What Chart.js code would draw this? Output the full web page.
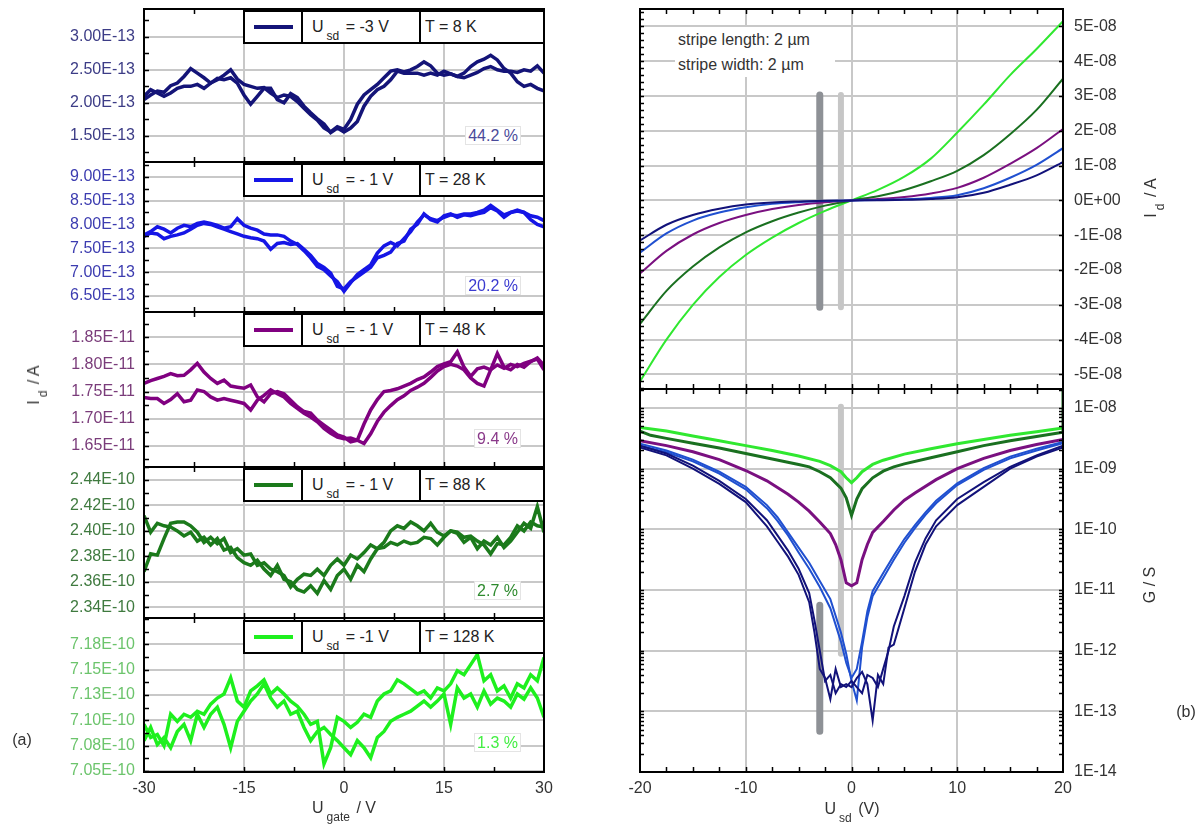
<!DOCTYPE html>
<html>
<head>
<meta charset="utf-8">
<script src="https://cdn.jsdelivr.net/npm/chart.js@4.4.0/dist/chart.umd.min.js"></script>
<style>
  body { margin: 0; background: #fff; font-family: 'Liberation Sans', Arial, sans-serif; }
  #fig { position: relative; width: 1201px; height: 827px; overflow: hidden; background: #fff; }
  canvas { position: absolute; }
  .lg { position: absolute; left: 243px; width: 302px; height: 34px; box-sizing: border-box;
        border: 2px solid #000; background: #fff; display: flex; font-size: 16px; color: #222; }
  .lg .sw { width: 56px; border-right: 2px solid #000; position: relative; }
  .lg .sw i { position: absolute; left: 9px; right: 8px; top: 13px; height: 4px; }
  .lg .u { width: 118px; border-right: 2px solid #000; padding-left: 9px; line-height: 29px; box-sizing: border-box; }
  .lg .t { flex: 1; padding-left: 4px; line-height: 29px; }
  .sb { font-size: 12px; position: relative; top: 8px; margin: 0 2px 0 3px; }
  .pc { position: absolute; right: 680px; font-size: 16px; line-height: 17px; padding: 0 2px;
        background: #fff; border: 1px solid #e4e4e4; }
  .txt { position: absolute; white-space: nowrap; font-size: 16px; color: #333; transform: translate(-50%, -50%); }
  .rot { position: absolute; white-space: nowrap; font-size: 16px; color: #333; transform: translate(-50%, -50%) rotate(-90deg); }
  .note { position: absolute; left: 675px; top: 27px; width: 160px; height: 50px; background: #fff;
          font-size: 16px; color: #333; line-height: 25px; padding-left: 3px; box-sizing: border-box; }
</style>
</head>
<body>
<div id="fig">
  <canvas id="p1"></canvas>
  <canvas id="p2"></canvas>
  <canvas id="p3"></canvas>
  <canvas id="p4"></canvas>
  <canvas id="p5"></canvas>
  <canvas id="rTop"></canvas>
  <canvas id="rBot"></canvas>

  <div class="lg" style="top:10px"><div class="sw"><i style="background:#141478"></i></div><div class="u">U<span class="sb">sd</span> = -3 V</div><div class="t">T = 8 K</div></div>
  <div class="lg" style="top:163px"><div class="sw"><i style="background:#1515e6"></i></div><div class="u">U<span class="sb">sd</span> = - 1 V</div><div class="t">T = 28 K</div></div>
  <div class="lg" style="top:313px"><div class="sw"><i style="background:#800080"></i></div><div class="u">U<span class="sb">sd</span> = - 1 V</div><div class="t">T = 48 K</div></div>
  <div class="lg" style="top:468px"><div class="sw"><i style="background:#1b7a1b"></i></div><div class="u">U<span class="sb">sd</span> = - 1 V</div><div class="t">T = 88 K</div></div>
  <div class="lg" style="top:620px"><div class="sw"><i style="background:#1ef01e"></i></div><div class="u">U<span class="sb">sd</span> = -1 V</div><div class="t">T = 128 K</div></div>

  <div class="pc" style="top:126px;color:#4a4a9a">44.2 %</div>
  <div class="pc" style="top:276px;color:#3a3ad0">20.2 %</div>
  <div class="pc" style="top:429px;color:#8a3a8a">9.4 %</div>
  <div class="pc" style="top:581px;color:#2e8a2e">2.7 %</div>
  <div class="pc" style="top:733px;color:#44ee44">1.3 %</div>

  <div class="rot" style="left:34px;top:385px">I<span class="sb">d</span> / A</div>
  <div class="txt" style="left:344px;top:808px">U<span class="sb">gate</span> / V</div>
  <div class="txt" style="left:22px;top:740px">(a)</div>

  <div class="note">stripe length: 2 µm<br>stripe width: 2 µm</div>
  <div class="rot" style="left:1151px;top:198px">I<span class="sb">d</span> / A</div>
  <div class="rot" style="left:1150px;top:585px">G / S</div>
  <div class="txt" style="left:852px;top:809px">U<span class="sb">sd</span> (V)</div>
  <div class="txt" style="left:1186px;top:712px">(b)</div>
</div>

<script>
// ---------- data ----------

// left: gate sweep, x in V
const gateV = [-30,-29,-28,-27,-26,-25,-24,-23,-22,-21,-20,-19,-18,-17,-16,-15,-14,-13,-12,-11,-10,
  -9,-8,-7,-6,-5,-4,-3,-2,-1,0,1,2,3,4,5,6,7,8,9,10,11,12,13,14,15,16,17,18,19,20,
  21,22,23,24,25,26,27,28,29,30];
const gateTicks = [-30, -15, 0, 15, 30];

// panel 1: T = 8 K, values in 1E-13 A
const p1A = [2.05,2.12,2.18,2.16,2.26,2.30,2.40,2.52,2.45,2.38,2.30,2.35,2.42,2.50,2.36,2.28,2.25,2.22,2.23,2.15,2.08,
  2.12,2.10,2.02,1.92,1.82,1.74,1.62,1.56,1.64,1.60,1.75,1.98,2.12,2.20,2.28,2.38,2.48,2.50,2.47,2.50,
  2.55,2.62,2.56,2.45,2.42,2.44,2.40,2.45,2.55,2.62,2.66,2.72,2.65,2.52,2.45,2.32,2.25,2.28,2.22,2.18];
const p1B = [2.10,2.20,2.15,2.10,2.15,2.22,2.25,2.25,2.28,2.22,2.30,2.37,2.35,2.38,2.30,2.12,1.98,2.10,2.22,2.22,2.05,
  2.00,2.14,2.08,1.95,1.85,1.76,1.68,1.55,1.62,1.56,1.62,1.72,1.95,2.10,2.20,2.25,2.35,2.48,2.45,2.45,
  2.45,2.42,2.45,2.42,2.48,2.44,2.40,2.38,2.42,2.46,2.52,2.55,2.50,2.48,2.48,2.46,2.50,2.48,2.56,2.45];
const p1Ticks = [1.5, 2.0, 2.5, 3.0];
const p1Labels = ['1.50E-13', '2.00E-13', '2.50E-13', '3.00E-13'];

// panel 2: T = 28 K, values in 1E-13 A
const p2A = [7.78,7.85,7.95,7.90,7.82,7.92,7.98,7.95,8.02,8.05,8.02,7.98,7.92,7.95,8.12,7.98,7.92,7.88,7.80,7.78,7.78,
  7.75,7.65,7.58,7.45,7.30,7.12,7.05,6.92,6.80,6.60,6.78,6.95,7.05,7.15,7.40,7.55,7.62,7.55,7.70,7.85,
  8.05,8.20,8.12,8.08,8.15,8.20,8.18,8.22,8.22,8.25,8.30,8.40,8.30,8.20,8.25,8.30,8.25,8.18,8.15,8.08];
const p2B = [7.75,7.82,7.80,7.70,7.75,7.78,7.82,7.90,7.98,8.02,8.00,7.95,7.90,7.85,7.80,7.75,7.72,7.70,7.65,7.48,7.60,
  7.62,7.58,7.60,7.48,7.35,7.18,7.10,6.98,6.70,6.65,6.80,6.90,7.00,7.10,7.30,7.35,7.42,7.60,7.65,7.90,
  8.00,8.22,8.10,8.05,8.18,8.22,8.15,8.20,8.18,8.22,8.25,8.35,8.28,8.15,8.25,8.28,8.25,8.10,8.00,7.95];
const p2Ticks = [6.5, 7.0, 7.5, 8.0, 8.5, 9.0];
const p2Labels = ['6.50E-13', '7.00E-13', '7.50E-13', '8.00E-13', '8.50E-13', '9.00E-13'];

// panel 3: T = 48 K, values in 1E-11 A
const p3A = [1.765,1.770,1.774,1.778,1.783,1.779,1.780,1.790,1.802,1.786,1.774,1.765,1.771,1.760,1.758,1.756,1.762,1.740,1.731,1.746,1.750,
  1.746,1.734,1.722,1.713,1.710,1.697,1.688,1.679,1.670,1.666,1.657,1.660,1.690,1.716,1.735,1.750,1.752,1.755,1.760,1.765,
  1.772,1.777,1.786,1.796,1.801,1.805,1.823,1.795,1.778,1.792,1.795,1.790,1.799,1.793,1.800,1.796,1.802,1.806,1.810,1.790];
const p3B = [1.739,1.737,1.737,1.728,1.735,1.746,1.731,1.734,1.753,1.750,1.740,1.734,1.737,1.734,1.731,1.728,1.716,1.734,1.743,1.753,1.746,
  1.740,1.728,1.719,1.710,1.703,1.694,1.682,1.673,1.666,1.663,1.664,1.660,1.654,1.672,1.695,1.712,1.724,1.735,1.742,1.752,
  1.758,1.765,1.776,1.788,1.796,1.800,1.797,1.790,1.775,1.765,1.760,1.790,1.820,1.795,1.790,1.800,1.795,1.805,1.812,1.798];
const p3Ticks = [1.65, 1.70, 1.75, 1.80, 1.85];
const p3Labels = ['1.65E-11', '1.70E-11', '1.75E-11', '1.80E-11', '1.85E-11'];

// panel 4: T = 88 K, values in 1E-10 A
const p4A = [2.412,2.399,2.406,2.404,2.403,2.400,2.396,2.399,2.392,2.395,2.389,2.394,2.385,2.387,2.379,2.375,2.373,2.377,2.370,2.365,2.373,
  2.362,2.360,2.354,2.352,2.357,2.351,2.361,2.354,2.365,2.370,2.362,2.373,2.368,2.378,2.386,2.391,2.400,2.404,2.402,2.407,
  2.404,2.400,2.406,2.399,2.396,2.400,2.398,2.391,2.395,2.386,2.392,2.389,2.395,2.387,2.392,2.399,2.406,2.402,2.419,2.399];
const p4B = [2.368,2.382,2.381,2.394,2.406,2.407,2.407,2.404,2.399,2.391,2.395,2.390,2.394,2.383,2.386,2.381,2.382,2.373,2.375,2.370,2.368,
  2.365,2.356,2.362,2.366,2.365,2.370,2.365,2.373,2.378,2.373,2.381,2.378,2.383,2.389,2.386,2.387,2.391,2.389,2.392,2.390,
  2.391,2.395,2.394,2.389,2.395,2.400,2.399,2.395,2.396,2.392,2.389,2.382,2.390,2.389,2.395,2.404,2.400,2.407,2.404,2.403];
const p4Ticks = [2.34, 2.36, 2.38, 2.40, 2.42, 2.44];
const p4Labels = ['2.34E-10', '2.36E-10', '2.38E-10', '2.40E-10', '2.42E-10', '2.44E-10'];

// panel 5: T = 128 K, values in 1E-10 A
const p5A = [7.096,7.083,7.086,7.075,7.106,7.099,7.106,7.103,7.109,7.106,7.116,7.122,7.126,7.142,7.119,7.113,7.129,7.134,7.140,7.126,7.132,
  7.126,7.119,7.114,7.106,7.096,7.099,7.057,7.073,7.103,7.099,7.093,7.098,7.106,7.103,7.119,7.126,7.129,7.140,7.136,7.131,
  7.126,7.129,7.122,7.132,7.129,7.136,7.149,7.145,7.155,7.165,7.139,7.145,7.129,7.134,7.122,7.136,7.132,7.145,7.139,7.162];
const p5B = [7.080,7.093,7.076,7.083,7.073,7.089,7.096,7.080,7.106,7.093,7.106,7.113,7.096,7.073,7.099,7.109,7.119,7.126,7.136,7.122,7.113,
  7.119,7.106,7.109,7.093,7.080,7.089,7.093,7.086,7.080,7.073,7.066,7.080,7.073,7.063,7.083,7.089,7.099,7.103,7.106,7.109,
  7.114,7.119,7.113,7.119,7.126,7.096,7.132,7.122,7.126,7.113,7.129,7.116,7.122,7.119,7.113,7.126,7.121,7.132,7.122,7.103];
const p5Ticks = [7.05, 7.075, 7.10, 7.125, 7.15, 7.175];
const p5Labels = ['7.05E-10', '7.08E-10', '7.10E-10', '7.13E-10', '7.15E-10', '7.18E-10'];

// right top: I-V curves, x in V, current in 1E-8 A
const sdV = [-20,-17.5,-15,-12.5,-10,-7.5,-5,-2.5,0,2.5,5,7.5,10,12.5,15,17.5,20];
const iNavy   = [-1.15,-0.70,-0.42,-0.24,-0.12,-0.06,-0.03,-0.01,0,0.005,0.015,0.04,0.09,0.22,0.45,0.72,1.10];
const iBlue   = [-1.50,-0.95,-0.58,-0.35,-0.20,-0.10,-0.05,-0.02,0,0.01,0.03,0.07,0.15,0.35,0.65,1.02,1.50];
const iPurple = [-2.10,-1.45,-0.98,-0.65,-0.42,-0.25,-0.13,-0.05,0,0.04,0.10,0.20,0.36,0.65,1.05,1.50,2.05];
const iDkGreen= [-3.55,-2.60,-1.90,-1.35,-0.92,-0.60,-0.35,-0.15,0,0.12,0.30,0.55,0.85,1.30,1.90,2.60,3.50];
const iGreen  = [-5.20,-4.00,-3.00,-2.20,-1.57,-1.07,-0.65,-0.30,0,0.30,0.68,1.20,1.95,2.75,3.60,4.35,5.15];
const iTicks = [-5,-4,-3,-2,-1,0,1,2,3,4,5];
const iLabels = ['-5E-08','-4E-08','-3E-08','-2E-08','-1E-08','0E+00','1E-08','2E-08','3E-08','4E-08','5E-08'];
const sdTicks = [-20, -10, 0, 10, 20];

// gray marker bars (V, and I range in 1E-8 A)
const darkBarV = -3, darkBarI = [3.03, -3.07];
const lightBarV = -1, lightBarI = [3.03, -3.07];

// right bottom: conductance, stored as log10(G / S)
const gNavyV = [-20,-17.5,-15,-12.5,-10,-8,-7,-6,-5,-4,-3.5,-3,-2.5,-2,-1.5,-1,-0.5,0,0.5,1,1.5,2,2.5,3,3.5,4,5,6,7,8,10,12.5,15,17.5,20];
const gNavyA = [-8.65,-8.78,-9.0,-9.25,-9.55,-9.95,-10.2,-10.45,-10.75,-11.2,-11.7,-12.3,-12.45,-12.8,-12.3,-12.6,-12.55,-12.6,
  -12.45,-12.35,-12.55,-13.15,-12.4,-12.55,-11.95,-11.9,-11.3,-10.7,-10.25,-9.95,-9.6,-9.3,-9.0,-8.8,-8.65];
const gNavyB = [-8.62,-8.75,-8.95,-9.2,-9.5,-9.85,-10.1,-10.35,-10.65,-11.05,-11.5,-12.0,-12.5,-12.4,-12.7,-12.55,-12.6,-12.5,
  -12.6,-12.7,-12.4,-12.45,-12.6,-12.3,-12.0,-11.6,-11.1,-10.55,-10.15,-9.85,-9.5,-9.22,-8.97,-8.78,-8.62];
const gBlueV = [-20,-17.5,-15,-12.5,-10,-8,-7,-6,-5,-4,-3,-2,-1,-0.5,0,0.5,1,1.5,2,3,4,5,6,7,8,10,12.5,15,17.5,20];
const gBlueA = [-8.59,-8.7,-8.85,-9.05,-9.3,-9.6,-9.8,-10.05,-10.3,-10.55,-10.85,-11.15,-11.7,-12.05,-12.5,-12.82,-11.95,-11.45,
  -11.1,-10.8,-10.5,-10.22,-9.98,-9.76,-9.57,-9.27,-9.02,-8.83,-8.7,-8.58];
const gBlueB = [-8.62,-8.73,-8.88,-9.08,-9.34,-9.65,-9.86,-10.1,-10.38,-10.65,-10.95,-11.3,-11.85,-12.2,-12.45,-12.3,-11.85,-11.35,
  -11.02,-10.72,-10.43,-10.16,-9.93,-9.72,-9.53,-9.24,-8.99,-8.8,-8.67,-8.56];
const gPurpleV = [-20,-17.5,-15,-12.5,-10,-8,-6,-5,-4,-3,-2,-1.5,-1,-0.5,0,0.5,1,1.5,2,3,4,5,6,8,10,12.5,15,17.5,20];
const gPurple = [-8.54,-8.62,-8.72,-8.85,-9.03,-9.2,-9.42,-9.55,-9.7,-9.88,-10.07,-10.25,-10.5,-10.88,-10.93,-10.88,-10.5,-10.25,
  -10.05,-9.87,-9.68,-9.52,-9.4,-9.18,-9.0,-8.83,-8.7,-8.6,-8.52];
const gDkGreenV = [-20,-19,-17.5,-15,-12.5,-10,-7.5,-5,-4,-3,-2,-1,-0.5,0,0.5,1,2,3,4,5,7.5,10,12.5,15,17.5,20,20];
const gDkGreen = [-8.38,-8.45,-8.5,-8.58,-8.66,-8.75,-8.84,-8.93,-8.97,-9.05,-9.15,-9.32,-9.48,-9.77,-9.5,-9.33,-9.15,-9.04,
  -8.97,-8.92,-8.82,-8.72,-8.62,-8.54,-8.47,-8.4,-7.68];
const gGreenV = [-20,-17.5,-15,-12.5,-10,-7.5,-5,-3,-2,-1,-0.5,0,0.5,1,2,3,5,7.5,10,12.5,15,17.5,20];
const gGreen = [-8.32,-8.38,-8.46,-8.54,-8.62,-8.7,-8.79,-8.88,-8.95,-9.05,-9.15,-9.23,-9.15,-9.05,-8.93,-8.86,-8.76,-8.67,
  -8.59,-8.52,-8.45,-8.39,-8.33];
const gDarkBar = [-11.25, -13.33];
const gLightBar = [-7.98, -12.05];
const gTicks = [1e-14, 1e-13, 1e-12, 1e-11, 1e-10, 1e-9, 1e-8];
const gLabels = ['1E-14', '1E-13', '1E-12', '1E-11', '1E-10', '1E-09', '1E-08'];

// ---------- helpers ----------
const FONT = "'Liberation Sans', Arial, sans-serif";
const GRID = '#c8c8c8';

function pts(xs, ys, f) {
  return xs.map((x, i) => ({ x: x, y: f ? f(ys[i]) : ys[i] }));
}
const pow10 = v => Math.pow(10, v);

function steps(a, b, s) {
  const out = [];
  for (let v = a; v <= b + s / 1000; v += s) out.push(+v.toFixed(6));
  return out;
}

// frame around the plot area plus inward tick marks
const frameTicks = {
  id: 'frameTicks',
  afterDatasetsDraw(chart, args, o) {
    const { ctx, chartArea: a, scales } = chart;
    const xs = scales.x, ys = scales.y;
    ctx.save();
    ctx.strokeStyle = '#000';
    ctx.lineWidth = 1.5;
    ctx.beginPath();
    (o.xTicks || []).forEach(v => {
      const p = Math.round(xs.getPixelForValue(v)) + 0.5;
      ctx.moveTo(p, a.top); ctx.lineTo(p, a.top + o.xLen);
      ctx.moveTo(p, a.bottom); ctx.lineTo(p, a.bottom - o.xLen);
    });
    (o.yLeft || []).forEach(v => {
      const p = Math.round(ys.getPixelForValue(v)) + 0.5;
      if (p < a.top || p > a.bottom) return;
      ctx.moveTo(a.left, p); ctx.lineTo(a.left + o.yLen, p);
    });
    (o.yRight || []).forEach(v => {
      const p = Math.round(ys.getPixelForValue(v)) + 0.5;
      if (p < a.top || p > a.bottom) return;
      ctx.moveTo(a.right, p); ctx.lineTo(a.right - o.yLen, p);
    });
    ctx.stroke();
    ctx.lineWidth = 2;
    ctx.strokeRect(a.left, a.top, a.right - a.left, a.bottom - a.top);
    ctx.restore();
  }
};

function placeCanvas(id, area, m) {
  const cv = document.getElementById(id);
  const w = area.r - area.l + m.l + m.r;
  const h = area.b - area.t + m.t + m.b;
  cv.width = w; cv.height = h;
  cv.style.width = w + 'px'; cv.style.height = h + 'px';
  cv.style.left = (area.l - m.l) + 'px';
  cv.style.top = (area.t - m.t) + 'px';
  return cv;
}

function line(data, color, width, extra) {
  return Object.assign({ data: data, showLine: true, borderColor: color, backgroundColor: color,
    borderWidth: width, pointRadius: 0, tension: 0, fill: false }, extra || {});
}

// ---------- left panels ----------
const leftPanels = [
  { id: 'p1', top: 9,   bottom: 162, min: 1.106, max: 3.42,   ticks: p1Ticks, labels: p1Labels, minor: 0.25,
    a: p1A, b: p1B, color: '#141478', tickColor: '#3c3c86' },
  { id: 'p2', top: 162, bottom: 312, min: 6.165, max: 9.307,  ticks: p2Ticks, labels: p2Labels, minor: 0.25,
    a: p2A, b: p2B, color: '#1515e6', tickColor: '#3c3cb0' },
  { id: 'p3', top: 312, bottom: 467, min: 1.6107, max: 1.8967, ticks: p3Ticks, labels: p3Labels, minor: 0.025,
    a: p3A, b: p3B, color: '#800080', tickColor: '#7a3c7a' },
  { id: 'p4', top: 467, bottom: 618, min: 2.3316, max: 2.4502, ticks: p4Ticks, labels: p4Labels, minor: 0.01,
    a: p4A, b: p4B, color: '#1b7a1b', tickColor: '#3f7a3f' },
  { id: 'p5', top: 618, bottom: 772, min: 7.049, max: 7.201,  ticks: p5Ticks, labels: p5Labels, minor: 0.0125,
    a: p5A, b: p5B, color: '#1ef01e', tickColor: '#6cc46c' }
];

leftPanels.forEach((p, idx) => {
  const last = idx === leftPanels.length - 1;
  const area = { l: 144, r: 544, t: p.top, b: p.bottom };
  const m = { l: 144, r: 16, t: 26, b: last ? 55 : 26 };
  const cv = placeCanvas(p.id, area, m);
  new Chart(cv, {
    type: 'scatter',
    data: { datasets: [line(pts(gateV, p.a), p.color, 3.5), line(pts(gateV, p.b), p.color, 3.5)] },
    options: {
      responsive: false, animation: false, devicePixelRatio: 1, events: [],
      layout: { padding: { left: 0, right: m.r, top: m.t, bottom: 0 } },
      plugins: {
        legend: { display: false }, tooltip: { enabled: false },
        frameTicks: { xTicks: steps(-22.5, 22.5, 7.5), xLen: 5,
                      yLeft: steps(p.ticks[0] - p.minor * 2, p.max, p.minor), yLen: 5 }
      },
      scales: {
        x: {
          min: -30, max: 30,
          afterBuildTicks: s => { s.ticks = gateTicks.map(v => ({ value: v })); },
          afterFit: s => { s.height = m.b; },
          grid: { color: GRID, lineWidth: 2, drawTicks: false },
          border: { display: false },
          ticks: { display: last, color: '#333', font: { family: FONT, size: 16 }, padding: 7,
                   maxRotation: 0, autoSkip: false }
        },
        y: {
          min: p.min, max: p.max,
          afterBuildTicks: s => { s.ticks = p.ticks.map(v => ({ value: v })); },
          afterFit: s => { s.width = m.l; },
          grid: { color: GRID, lineWidth: 2, drawTicks: false },
          border: { display: false },
          ticks: { color: p.tickColor, font: { family: FONT, size: 16 }, padding: 9, autoSkip: false,
                   callback: (v, i) => p.labels[i] }
        }
      }
    },
    plugins: [frameTicks]
  });
});

// ---------- right top: I-V ----------
const colNavy = '#12127a', colBlue = '#2050d0', colPurple = '#7a1080', colDkGreen = '#1a7020', colGreen = '#30e830';
const colDarkBar = '#8e9196', colLightBar = '#c6c6c6';

(function () {
  const area = { l: 640, r: 1063, t: 9, b: 389 };
  const m = { l: 30, r: 138, t: 26, b: 26 };
  const cv = placeCanvas('rTop', area, m);
  new Chart(cv, {
    type: 'scatter',
    data: {
      datasets: [
        line(pts(sdV, iNavy), colNavy, 2, { cubicInterpolationMode: 'monotone' }),
        line(pts(sdV, iBlue), colBlue, 2, { cubicInterpolationMode: 'monotone' }),
        line(pts(sdV, iPurple), colPurple, 2, { cubicInterpolationMode: 'monotone' }),
        line(pts(sdV, iDkGreen), colDkGreen, 2, { cubicInterpolationMode: 'monotone' }),
        line(pts(sdV, iGreen), colGreen, 2, { cubicInterpolationMode: 'monotone' }),
        line(pts([darkBarV, darkBarV], darkBarI), colDarkBar, 7, { borderCapStyle: 'round', order: 10 }),
        line(pts([lightBarV, lightBarV], lightBarI), colLightBar, 6, { borderCapStyle: 'round', order: 10 })
      ]
    },
    options: {
      responsive: false, animation: false, devicePixelRatio: 1, events: [],
      layout: { padding: { left: m.l, right: 0, top: m.t, bottom: 0 } },
      plugins: {
        legend: { display: false }, tooltip: { enabled: false },
        frameTicks: { xTicks: steps(-17.5, 17.5, 2.5), xLen: 5,
                      yLeft: steps(-5.4, 5.4, 0.2), yRight: iTicks, yLen: 4 }
      },
      scales: {
        x: {
          min: -20, max: 20,
          afterBuildTicks: s => { s.ticks = sdTicks.map(v => ({ value: v })); },
          afterFit: s => { s.height = m.b; },
          grid: { color: GRID, lineWidth: 2, drawTicks: false },
          border: { display: false },
          ticks: { display: false }
        },
        y: {
          position: 'right', min: -5.42, max: 5.50,
          afterBuildTicks: s => { s.ticks = iTicks.map(v => ({ value: v })); },
          afterFit: s => { s.width = m.r; },
          grid: { color: GRID, lineWidth: 2, drawTicks: false },
          border: { display: false },
          ticks: { color: '#333', font: { family: FONT, size: 16 }, padding: 11, autoSkip: false,
                   callback: (v, i) => iLabels[i] }
        }
      }
    },
    plugins: [frameTicks]
  });
})();

// ---------- right bottom: conductance (log) ----------
(function () {
  const area = { l: 640, r: 1063, t: 389, b: 772 };
  const m = { l: 30, r: 138, t: 26, b: 55 };
  const cv = placeCanvas('rBot', area, m);
  const logMinor = [];
  for (let e = -14; e <= -8; e++) for (let k = 1; k <= 9; k++) logMinor.push(k * Math.pow(10, e));
  new Chart(cv, {
    type: 'scatter',
    data: {
      datasets: [
        line(pts(gNavyV, gNavyA, pow10), colNavy, 2),
        line(pts(gNavyV, gNavyB, pow10), colNavy, 2),
        line(pts(gBlueV, gBlueA, pow10), colBlue, 2),
        line(pts(gBlueV, gBlueB, pow10), colBlue, 2),
        line(pts(gPurpleV, gPurple, pow10), colPurple, 3),
        line(pts(gDkGreenV, gDkGreen, pow10), colDkGreen, 3),
        line(pts(gGreenV, gGreen, pow10), colGreen, 3),
        line(pts([darkBarV, darkBarV], gDarkBar, pow10), colDarkBar, 7, { borderCapStyle: 'round', order: 10 }),
        line(pts([lightBarV, lightBarV], gLightBar, pow10), colLightBar, 6, { borderCapStyle: 'round', order: 10 })
      ]
    },
    options: {
      responsive: false, animation: false, devicePixelRatio: 1, events: [],
      layout: { padding: { left: m.l, right: 0, top: m.t, bottom: 0 } },
      plugins: {
        legend: { display: false }, tooltip: { enabled: false },
        frameTicks: { xTicks: steps(-17.5, 17.5, 2.5), xLen: 5,
                      yLeft: logMinor, yRight: logMinor, yLen: 4 }
      },
      scales: {
        x: {
          min: -20, max: 20,
          afterBuildTicks: s => { s.ticks = sdTicks.map(v => ({ value: v })); },
          afterFit: s => { s.height = m.b; },
          grid: { color: GRID, lineWidth: 2, drawTicks: false },
          border: { display: false },
          ticks: { color: '#333', font: { family: FONT, size: 16 }, padding: 7, maxRotation: 0, autoSkip: false }
        },
        y: {
          type: 'logarithmic', position: 'right', min: 1e-14, max: 2.06e-8,
          afterBuildTicks: s => { s.ticks = gTicks.map(v => ({ value: v })); },
          afterFit: s => { s.width = m.r; },
          grid: { color: GRID, lineWidth: 2, drawTicks: false },
          border: { display: false },
          ticks: { color: '#333', font: { family: FONT, size: 16 }, padding: 11, autoSkip: false,
                   callback: (v, i) => gLabels[i] }
        }
      }
    },
    plugins: [frameTicks]
  });
})();
</script>
</body>
</html>
